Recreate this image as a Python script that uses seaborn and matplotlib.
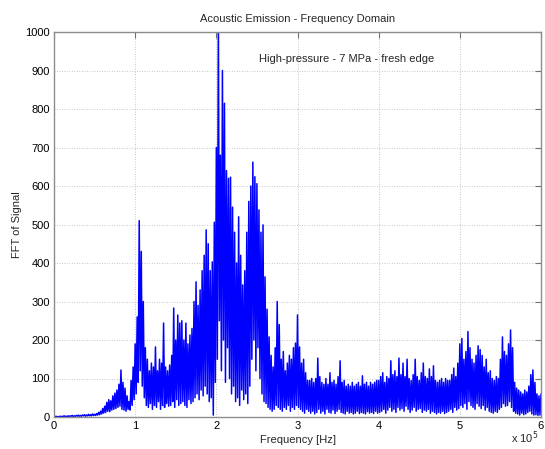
import numpy as np
import pandas as pd
import matplotlib
matplotlib.use("Agg")
import matplotlib.pyplot as plt
import seaborn as sns

# Spectrum of the acoustic emission signal: local maxima and minima of |FFT|,
# sampled every 2.5 kHz (maxima) with the minima lying half-way in between.
BIN_HZ = 2500.0

peaks_0 = [1, 2, 1, 2, 2, 3, 2, 3, 3, 4, 3, 4, 5, 4, 5, 6, 5, 7, 6, 8, 7,
           9, 12, 15, 22, 28, 38, 45, 42, 55, 62, 70, 85, 122, 90, 75, 55, 40, 95, 130]
peaks_1 = [190, 260, 510, 430, 300, 180, 150, 120, 140, 130, 182, 120, 150, 140, 244, 130,
           120, 135, 160, 283, 200, 265, 244, 250, 200, 244, 190, 213, 230, 300, 351, 290,
           330, 380, 420, 486, 450, 380, 403, 506]
peaks_2 = [700, 1050, 680, 900, 815, 640, 620, 623, 545, 480, 400, 520, 420, 343, 380, 480,
           560, 600, 662, 624, 606, 538, 480, 499, 364, 280, 208, 160, 130, 180, 300, 240,
           150, 170, 120, 140, 160, 150, 180, 192]
peaks_3 = [265, 182, 140, 150, 115, 95, 95, 100, 90, 100, 153, 105, 90, 85, 100, 85,
           115, 90, 95, 85, 105, 146, 90, 95, 80, 85, 80, 90, 80, 85, 90, 80,
           107, 85, 90, 80, 90, 85, 90, 95]
peaks_4 = [95, 105, 115, 90, 105, 100, 146, 110, 120, 105, 153, 110, 140, 105, 150, 100,
           95, 110, 150, 105, 95, 115, 140, 105, 100, 125, 105, 133, 95, 90, 95, 100,
           90, 100, 95, 95, 110, 127, 105, 140]
peaks_5 = [190, 204, 150, 170, 222, 180, 150, 140, 160, 185, 175, 160, 130, 150, 115, 120,
           100, 95, 105, 100, 150, 208, 170, 160, 190, 226, 180, 90, 75, 70, 65, 60,
           70, 65, 80, 110, 122, 90, 60, 55, 60]

troughs_0 = [0, 0, 1, 0, 1, 1, 1, 1, 2, 1, 2, 2, 2, 2, 3, 2, 3, 3, 3, 4,
             4, 5, 6, 8, 10, 12, 15, 14, 18, 20, 22, 25, 28, 20, 18, 15, 20, 18, 30, 45]
troughs_1 = [60, 90, 120, 80, 50, 30, 25, 35, 20, 30, 25, 40, 20, 30, 25, 35, 28, 30, 40, 25,
             45, 30, 35, 40, 30, 25, 45, 35, 40, 50, 60, 45, 70, 55, 80, 60, 40, 50, 5, 90]
troughs_2 = [150, 250, 120, 200, 90, 180, 100, 60, 80, 40, 50, 30, 70, 45, 60, 35, 80, 150, 200, 120,
             180, 100, 60, 40, 35, 25, 20, 15, 20, 30, 25, 20, 15, 25, 20, 30, 15, 25, 20, 30]
troughs_3 = [25, 20, 15, 10, 20, 15, 10, 15, 8, 12, 20, 10, 15, 8, 20, 12, 10, 18, 9, 15,
             20, 12, 10, 8, 15, 10, 12, 8, 10, 15, 9, 12, 10, 8, 14, 10, 12, 9, 15, 10]
troughs_4 = [12, 15, 20, 10, 18, 25, 15, 20, 12, 25, 18, 22, 15, 28, 20, 12, 18, 25, 15, 20,
             22, 12, 18, 15, 20, 10, 15, 12, 8, 12, 10, 15, 9, 12, 15, 20, 12, 25, 18, 22]
troughs_5 = [30, 25, 35, 20, 40, 30, 25, 20, 35, 28, 22, 30, 18, 25, 15, 12, 10, 15, 12, 20,
             25, 35, 28, 30, 40, 25, 15, 10, 8, 5, 10, 6, 8, 12, 15, 8, 5, 6, 4, 5]

x_tick_values = [0, 1, 2, 3, 4, 5, 6]
y_tick_values = [0, 100, 200, 300, 400, 500, 600, 700, 800, 900, 1000]

title_text = "Acoustic Emission - Frequency Domain"
note_text = "High-pressure - 7 MPa - fresh edge"
x_label = "Frequency [Hz]"
y_label = "FFT of Signal"

peaks = peaks_0 + peaks_1 + peaks_2 + peaks_3 + peaks_4 + peaks_5
troughs = troughs_0 + troughs_1 + troughs_2 + troughs_3 + troughs_4 + troughs_5

# interleave maxima and minima into one spectrum trace
amp = []
freq = []
for i, p in enumerate(peaks):
    freq.append(i * BIN_HZ)
    amp.append(p)
    if i < len(troughs):
        freq.append((i + 0.5) * BIN_HZ)
        amp.append(troughs[i])
spectrum = pd.DataFrame({"freq": freq, "amp": amp})

sns.set_theme(style="white")
plt.rcParams["font.family"] = ["Liberation Sans", "DejaVu Sans"]

fig = plt.figure(figsize=(5.45, 4.49), dpi=100)
ax = fig.add_axes([54 / 545, 32 / 449, 487 / 545, 385 / 449])

sns.lineplot(data=spectrum, x="freq", y="amp", estimator=None, sort=False,
             color="#0000ff", linewidth=1.1, ax=ax)

ax.set_xlim(0, 6e5)
ax.set_ylim(0, 1000)
ax.set_xticks([v * 1e5 for v in x_tick_values])
ax.set_xticklabels([str(v) for v in x_tick_values])
ax.set_yticks(y_tick_values)
ax.set_yticklabels([str(v) for v in y_tick_values])

ax.grid(True, color="#b4b4b4", linestyle=(0, (1, 2)), linewidth=0.6)
ax.tick_params(direction="in", length=4, width=0.8, color="#707070",
               top=True, right=True, labelsize=8, pad=3, labelcolor="black")
for s in ax.spines.values():
    s.set_color("#8c8c8c")
    s.set_linewidth(1.0)
    s.set_visible(True)

ax.set_title(title_text, fontsize=8, pad=7)
ax.set_xlabel(x_label, fontsize=8, labelpad=3)
ax.set_ylabel(y_label, fontsize=8, labelpad=2)
ax.text(2.53e5, 930, note_text, fontsize=8, va="center", ha="left")
fig.text(538 / 545, 3 / 449, r"x 10$^5$", fontsize=8, ha="right", va="bottom")

fig.savefig("out.png", dpi=100, facecolor="white")
